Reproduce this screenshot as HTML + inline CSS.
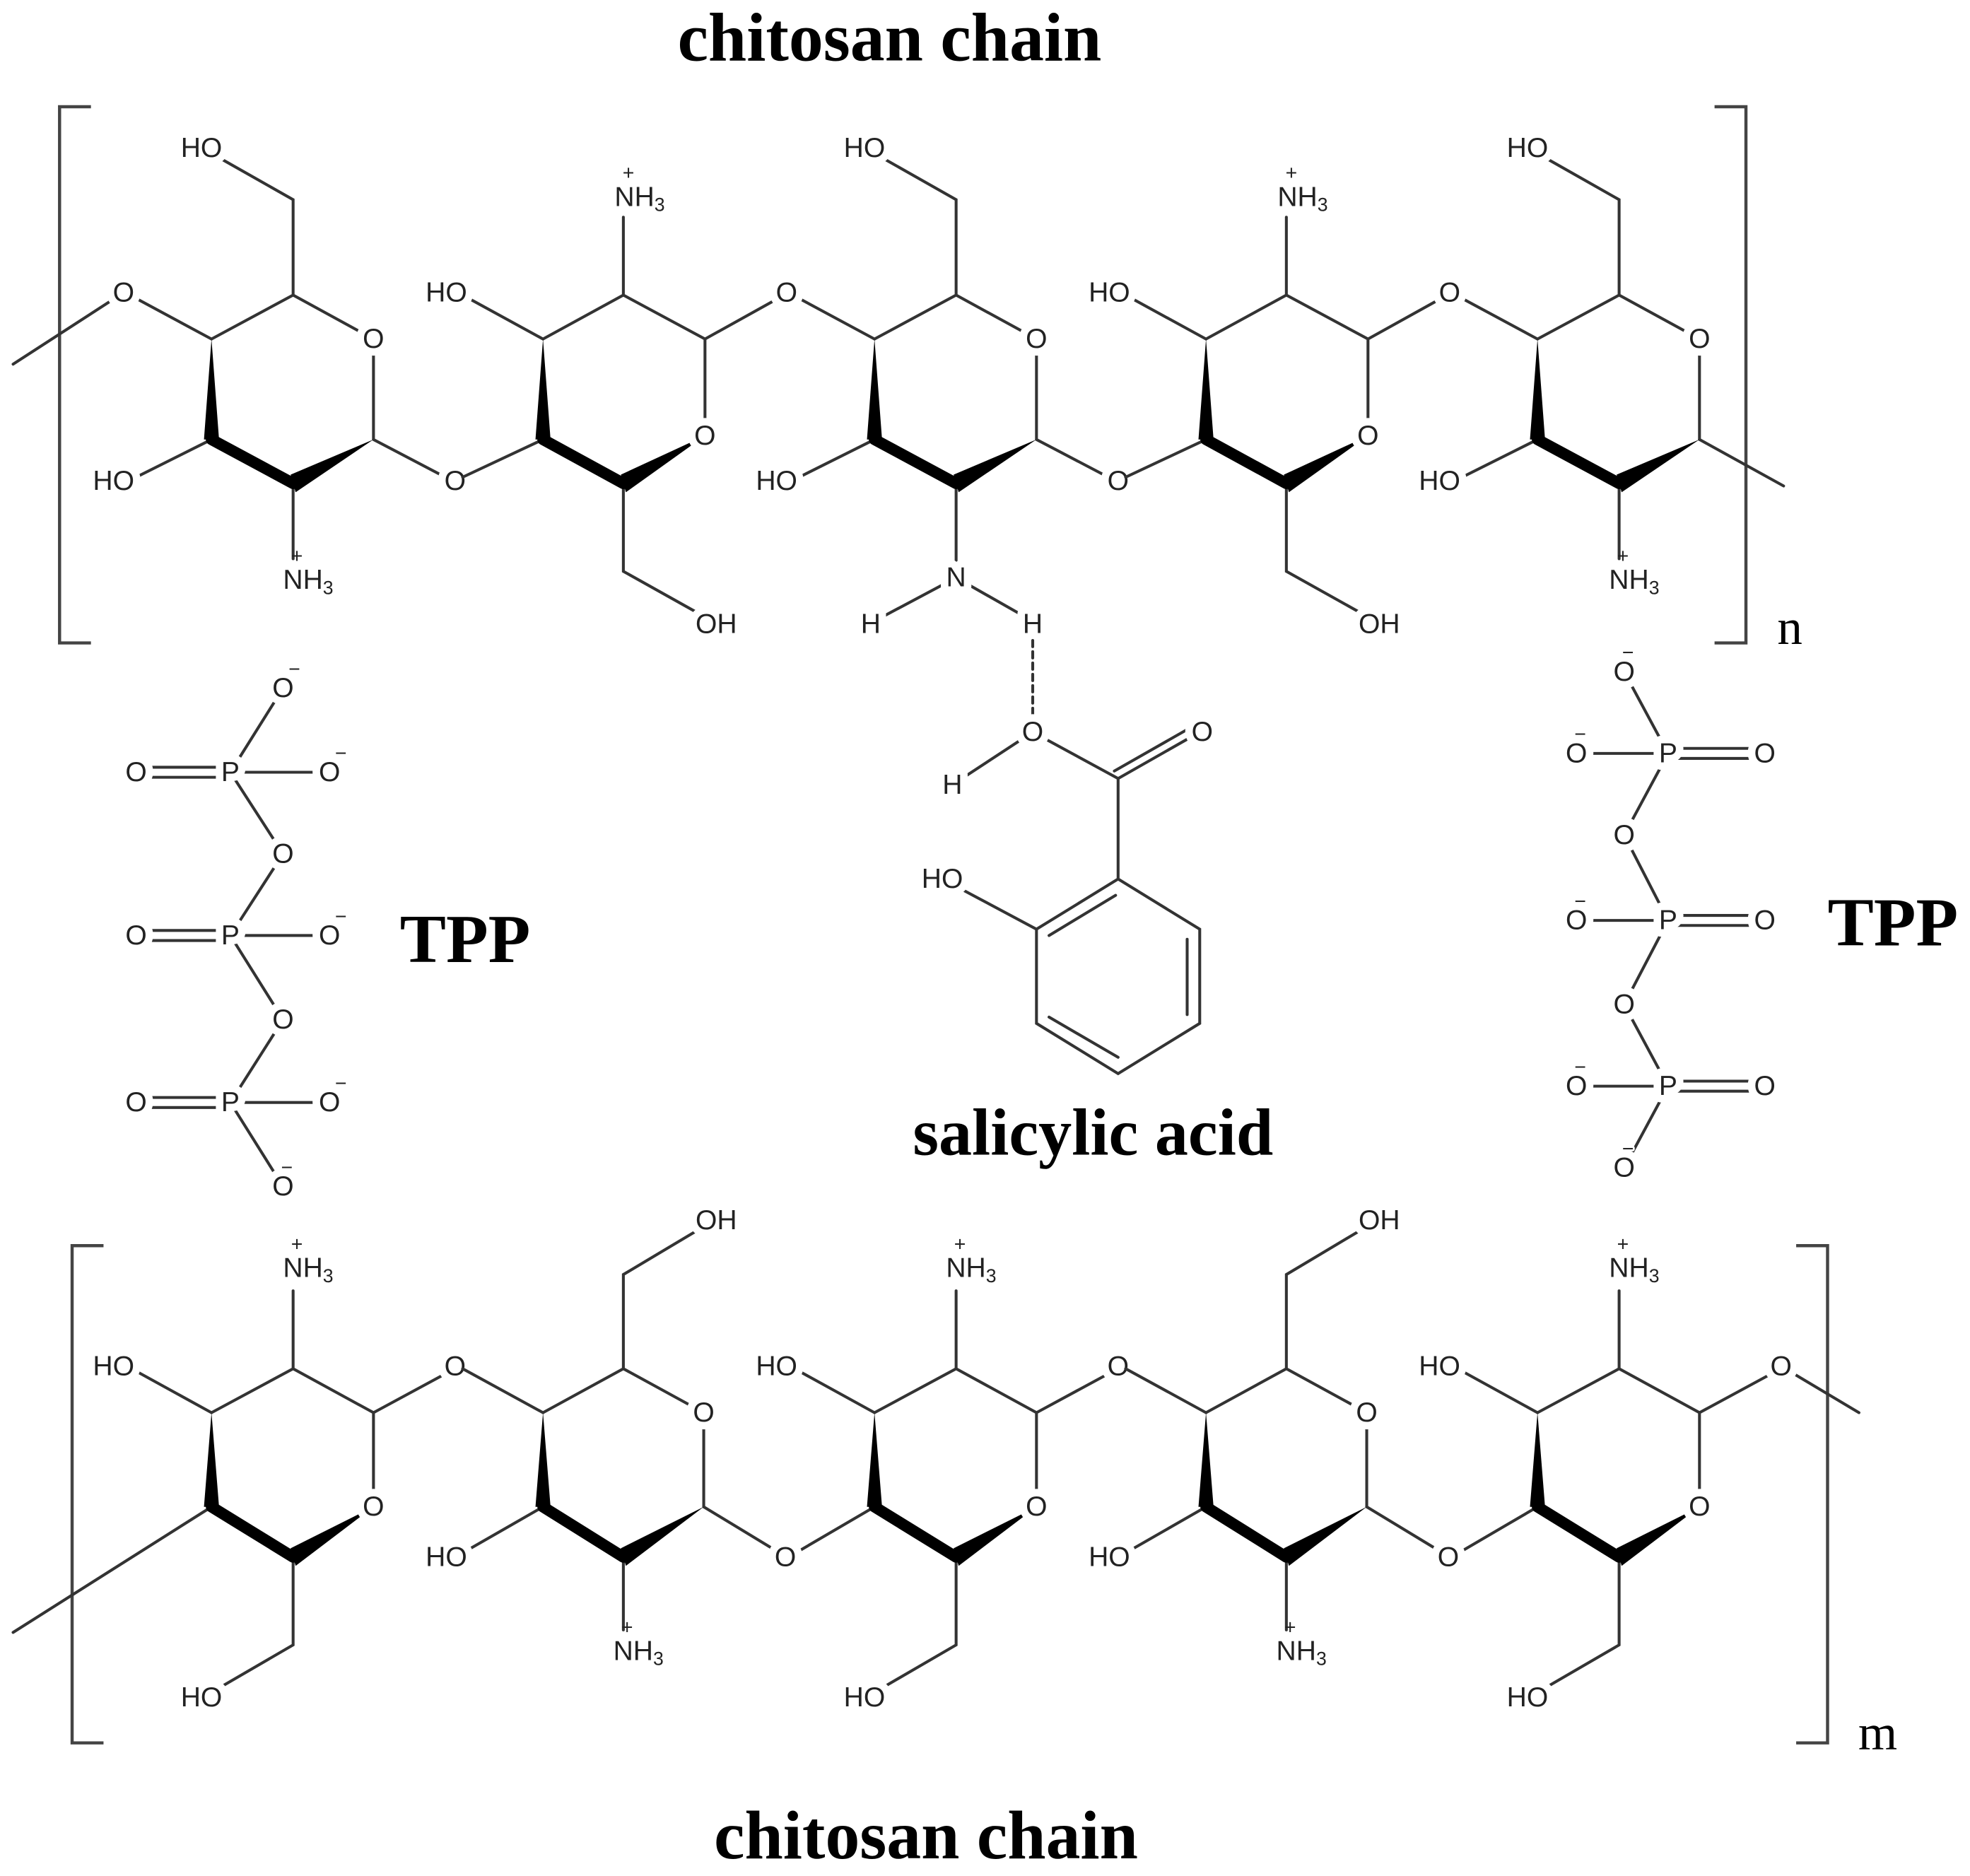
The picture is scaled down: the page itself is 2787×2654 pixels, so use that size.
<!DOCTYPE html>
<html><head><meta charset="utf-8"><style>
html,body{margin:0;padding:0;background:#fff;}
svg{display:block;}
.b{stroke:#333;stroke-width:2.3;fill:none;stroke-linecap:round;}
.t{font-family:"Liberation Sans",sans-serif;font-size:22px;fill:#222;text-anchor:middle;dominant-baseline:central;stroke:#fff;stroke-width:12px;paint-order:stroke;stroke-linejoin:round;}
.t.nh{stroke-width:5px;}
.t.pl{stroke:none;font-size:16px;}
.t.mi{stroke-width:3px;font-size:16px;}
.s{font-size:15px;}
.w{fill:#000;stroke:none;}
.tt{font-family:"Liberation Serif",serif;font-weight:bold;fill:#000;text-anchor:middle;dominant-baseline:central;}
.br{stroke:#444;stroke-width:2.5;fill:none;}
</style></head><body>
<svg width="2787" height="2654" viewBox="0 0 1568 1494" xmlns="http://www.w3.org/2000/svg">
<rect width="1568" height="1494" fill="#fff"/>
<text class="tt" x="708" y="30" font-size="55">chitosan chain</text>
<text class="tt" x="737" y="1462" font-size="55">chitosan chain</text>
<text class="tt" x="870" y="902" font-size="53">salicylic acid</text>
<text class="tt" x="370" y="748" font-size="55">TPP</text>
<text class="tt" x="1507" y="735" font-size="55">TPP</text>
<path class="br" d="M72,85 H47 V512 H72"/>
<path class="br" d="M1365,85 H1390 V512 H1365"/>
<text class="tt" x="1425" y="500" font-size="40" style="font-weight:normal">n</text>
<path class="br" d="M82,992 H57 V1388 H82"/>
<path class="br" d="M1430,992 H1455 V1388 H1430"/>
<text class="tt" x="1495" y="1380" font-size="40" style="font-weight:normal">m</text>

<line class="b" x1="98" y1="233" x2="10" y2="290"/>
<line class="b" x1="1353" y1="350" x2="1420" y2="387"/>
<line class="b" x1="168" y1="1200" x2="10" y2="1300"/>
<line class="b" x1="1418" y1="1088" x2="1480" y2="1125"/>

<g transform="translate(233,235)">
 <path class="b" d="M-65,35 L0,0 L64,35 L64,115 M0,0 V-76 L-60,-110 M-65,35 L-130,0 M-65,115 L-125,145 M0,150 V210 M64,115 L125,147"/>
 <polygon class="w" points="-65,35 -71,115 -59,115"/>
 <line x1="-65" y1="115" x2="0" y2="150" stroke="#000" stroke-width="9" stroke-linecap="round"/>
 <polygon class="w" points="-2,143 2,157 64,115"/>
 <text class="t" x="64" y="35">O</text><text class="t" x="-73" y="-117">HO</text>
 <text class="t" x="-135" y="-2">O</text><text class="t" x="-143" y="148">HO</text>
 <text class="t nh" x="12" y="227">NH<tspan class="s" dy="6">3</tspan></text><text class="t pl" x="3" y="208">+</text>
 <text class="t" x="129" y="148">O</text>
</g>
<g transform="translate(761,235)">
 <path class="b" d="M-65,35 L0,0 L64,35 L64,115 M0,0 V-76 L-60,-110 M-65,35 L-130,0 M-65,115 L-125,145 M0,150 V218 M64,115 L125,147"/>
 <polygon class="w" points="-65,35 -71,115 -59,115"/>
 <line x1="-65" y1="115" x2="0" y2="150" stroke="#000" stroke-width="9" stroke-linecap="round"/>
 <polygon class="w" points="-2,143 2,157 64,115"/>
 <path class="b" d="M0,225 L-62,258 M0,225 L58,258"/>
 <line class="b" x1="61" y1="275" x2="61" y2="348" stroke-dasharray="5,4"/>
 <text class="t" x="64" y="35">O</text><text class="t" x="-73" y="-117">HO</text>
 <text class="t" x="-143" y="148">HO</text>
 <text class="t" x="0" y="225">N</text><text class="t" x="-68" y="262">H</text><text class="t" x="61" y="262">H</text>
 <text class="t" x="129" y="148">O</text>
</g>
<g transform="translate(1289,235)">
 <path class="b" d="M-65,35 L0,0 L64,35 L64,115 M0,0 V-76 L-60,-110 M-65,35 L-130,0 M-65,115 L-125,145 M0,150 V210"/>
 <polygon class="w" points="-65,35 -71,115 -59,115"/>
 <line x1="-65" y1="115" x2="0" y2="150" stroke="#000" stroke-width="9" stroke-linecap="round"/>
 <polygon class="w" points="-2,143 2,157 64,115"/>
 <text class="t" x="64" y="35">O</text><text class="t" x="-73" y="-117">HO</text>
 <text class="t" x="-143" y="148">HO</text>
 <text class="t nh" x="12" y="227">NH<tspan class="s" dy="6">3</tspan></text><text class="t pl" x="3" y="208">+</text>
</g>
<g transform="translate(496,235)">
 <path class="b" d="M-64,35 L0,0 L65,35 L65,112 M-64,35 L-128,0 M0,0 V-62 M65,35 L128,0 M0,150 V220 L68,258 M-64,115 L-128,145"/>
 <polygon class="w" points="-64,35 -70,115 -58,115"/>
 <line x1="-64" y1="115" x2="0" y2="150" stroke="#000" stroke-width="9" stroke-linecap="round"/>
 <polygon class="w" points="-2,143 2,157 65,112"/>
 <text class="t" x="-141" y="-2">HO</text>
 <text class="t nh" x="13" y="-78">NH<tspan class="s" dy="6">3</tspan></text><text class="t pl" x="4" y="-97">+</text>
 <text class="t" x="130" y="-2">O</text><text class="t" x="65" y="112">O</text>
 <text class="t" x="74" y="262">OH</text>
</g>
<g transform="translate(1024,235)">
 <path class="b" d="M-64,35 L0,0 L65,35 L65,112 M-64,35 L-128,0 M0,0 V-62 M65,35 L128,0 M0,150 V220 L68,258 M-64,115 L-128,145"/>
 <polygon class="w" points="-64,35 -70,115 -58,115"/>
 <line x1="-64" y1="115" x2="0" y2="150" stroke="#000" stroke-width="9" stroke-linecap="round"/>
 <polygon class="w" points="-2,143 2,157 65,112"/>
 <text class="t" x="-141" y="-2">HO</text>
 <text class="t nh" x="13" y="-78">NH<tspan class="s" dy="6">3</tspan></text><text class="t pl" x="4" y="-97">+</text>
 <text class="t" x="130" y="-2">O</text><text class="t" x="65" y="112">O</text>
 <text class="t" x="74" y="262">OH</text>
</g>

<path class="b" d="M822,583 L758,625 M822,583 L890,620 L890,700 M890,620 L955,583 M887,614 L952,577 M890,700 L955,740 L955,815 L890,855 L825,815 L825,740 Z M825,740 L750,700 M945,748 V808 M835,810 L890,842 M835,745 L888,713"/>
<text class="t" x="822" y="583">O</text><text class="t" x="758" y="625">H</text>
<text class="t" x="957" y="583">O</text><text class="t" x="750" y="700">HO</text>

<g>
 <path class="b" d="M108,611 H183 M108,619 H183 M183,615 H262 M183,615 L225,548 M183,615 L225,680 L183,745 M108,741 H183 M108,749 H183 M183,745 H262 M183,745 L225,812 L183,878 M108,874 H183 M108,882 H183 M183,878 H262 M183,878 L225,945"/>
 <text class="t" x="108" y="615">O</text><text class="t" x="183" y="615">P</text><text class="t" x="262" y="615">O</text><text class="t mi" x="271" y="600">−</text>
 <text class="t" x="225" y="548">O</text><text class="t mi" x="234" y="533">−</text>
 <text class="t" x="225" y="680">O</text>
 <text class="t" x="108" y="745">O</text><text class="t" x="183" y="745">P</text><text class="t" x="262" y="745">O</text><text class="t mi" x="271" y="730">−</text>
 <text class="t" x="225" y="812">O</text>
 <text class="t" x="108" y="878">O</text><text class="t" x="183" y="878">P</text><text class="t" x="262" y="878">O</text><text class="t mi" x="271" y="863">−</text>
 <text class="t" x="225" y="945">O</text><text class="t mi" x="228" y="930">−</text>
</g>
<g>
 <path class="b" d="M1255,600 H1328 M1328,596 H1405 M1328,604 H1405 M1328,600 L1293,535 M1328,600 L1293,665 L1328,733 M1255,733 H1328 M1328,729 H1405 M1328,737 H1405 M1328,733 L1293,800 L1328,865 M1255,865 H1328 M1328,861 H1405 M1328,869 H1405 M1328,865 L1293,930"/>
 <text class="t" x="1255" y="600">O</text><text class="t mi" x="1258" y="585">−</text>
 <text class="t" x="1328" y="600">P</text><text class="t" x="1405" y="600">O</text>
 <text class="t" x="1293" y="535">O</text><text class="t mi" x="1296" y="520">−</text>
 <text class="t" x="1293" y="665">O</text>
 <text class="t" x="1255" y="733">O</text><text class="t mi" x="1258" y="718">−</text>
 <text class="t" x="1328" y="733">P</text><text class="t" x="1405" y="733">O</text>
 <text class="t" x="1293" y="800">O</text>
 <text class="t" x="1255" y="865">O</text><text class="t mi" x="1258" y="850">−</text>
 <text class="t" x="1328" y="865">P</text><text class="t" x="1405" y="865">O</text>
 <text class="t" x="1293" y="930">O</text><text class="t mi" x="1296" y="915">−</text>
</g>

<g transform="translate(233,1090)">
 <path class="b" d="M-65,35 L0,0 L64,35 L64,110 M0,0 V-62 M-65,35 L-125,2 M64,35 L125,2 M0,150 V220 L-62,256"/>
 <polygon class="w" points="-65,35 -71,110 -59,110"/>
 <line x1="-65" y1="110" x2="0" y2="150" stroke="#000" stroke-width="9" stroke-linecap="round"/>
 <polygon class="w" points="-2,143 2,157 64,110"/>
 <text class="t nh" x="12" y="-80">NH<tspan class="s" dy="6">3</tspan></text><text class="t pl" x="3" y="-99">+</text>
 <text class="t" x="-143" y="-2">HO</text><text class="t" x="129" y="-2">O</text>
 <text class="t" x="64" y="110">O</text><text class="t" x="-73" y="262">HO</text>
</g>
<g transform="translate(761,1090)">
 <path class="b" d="M-65,35 L0,0 L64,35 L64,110 M0,0 V-62 M-65,35 L-125,2 M64,35 L125,2 M0,150 V220 L-62,256 M-65,110 L-130,148"/>
 <polygon class="w" points="-65,35 -71,110 -59,110"/>
 <line x1="-65" y1="110" x2="0" y2="150" stroke="#000" stroke-width="9" stroke-linecap="round"/>
 <polygon class="w" points="-2,143 2,157 64,110"/>
 <text class="t nh" x="12" y="-80">NH<tspan class="s" dy="6">3</tspan></text><text class="t pl" x="3" y="-99">+</text>
 <text class="t" x="-143" y="-2">HO</text><text class="t" x="129" y="-2">O</text>
 <text class="t" x="64" y="110">O</text><text class="t" x="-73" y="262">HO</text>
</g>
<g transform="translate(1289,1090)">
 <path class="b" d="M-65,35 L0,0 L64,35 L64,110 M0,0 V-62 M-65,35 L-125,2 M64,35 L125,2 M0,150 V220 L-62,256 M-65,110 L-130,148"/>
 <polygon class="w" points="-65,35 -71,110 -59,110"/>
 <line x1="-65" y1="110" x2="0" y2="150" stroke="#000" stroke-width="9" stroke-linecap="round"/>
 <polygon class="w" points="-2,143 2,157 64,110"/>
 <text class="t nh" x="12" y="-80">NH<tspan class="s" dy="6">3</tspan></text><text class="t pl" x="3" y="-99">+</text>
 <text class="t" x="-143" y="-2">HO</text><text class="t" x="129" y="-2">O</text>
 <text class="t" x="64" y="110">O</text><text class="t" x="-73" y="262">HO</text>
</g>
<g transform="translate(496,1090)">
 <path class="b" d="M-64,35 L0,0 L64,35 M0,0 V-75 L62,-112 M-64,35 L-128,0 M64,110 L125,147 M0,150 V208 M-64,110 L-125,145"/>
 <line class="b" x1="64" y1="35" x2="64" y2="110"/>
 <polygon class="w" points="-64,35 -70,110 -58,110"/>
 <line x1="-64" y1="110" x2="0" y2="150" stroke="#000" stroke-width="9" stroke-linecap="round"/>
 <polygon class="w" points="-2,143 2,157 64,110"/>
 <text class="t" x="74" y="-118">OH</text><text class="t" x="64" y="35">O</text>
 <text class="t" x="129" y="150">O</text><text class="t" x="-141" y="150">HO</text>
 <text class="t nh" x="12" y="225">NH<tspan class="s" dy="6">3</tspan></text><text class="t pl" x="3" y="206">+</text>
</g>
<g transform="translate(1024,1090)">
 <path class="b" d="M-64,35 L0,0 L64,35 M0,0 V-75 L62,-112 M-64,35 L-128,0 M64,110 L125,147 M0,150 V208 M-64,110 L-125,145"/>
 <line class="b" x1="64" y1="35" x2="64" y2="110"/>
 <polygon class="w" points="-64,35 -70,110 -58,110"/>
 <line x1="-64" y1="110" x2="0" y2="150" stroke="#000" stroke-width="9" stroke-linecap="round"/>
 <polygon class="w" points="-2,143 2,157 64,110"/>
 <text class="t" x="74" y="-118">OH</text><text class="t" x="64" y="35">O</text>
 <text class="t" x="129" y="150">O</text><text class="t" x="-141" y="150">HO</text>
 <text class="t nh" x="12" y="225">NH<tspan class="s" dy="6">3</tspan></text><text class="t pl" x="3" y="206">+</text>
</g>
</svg>
</body></html>
